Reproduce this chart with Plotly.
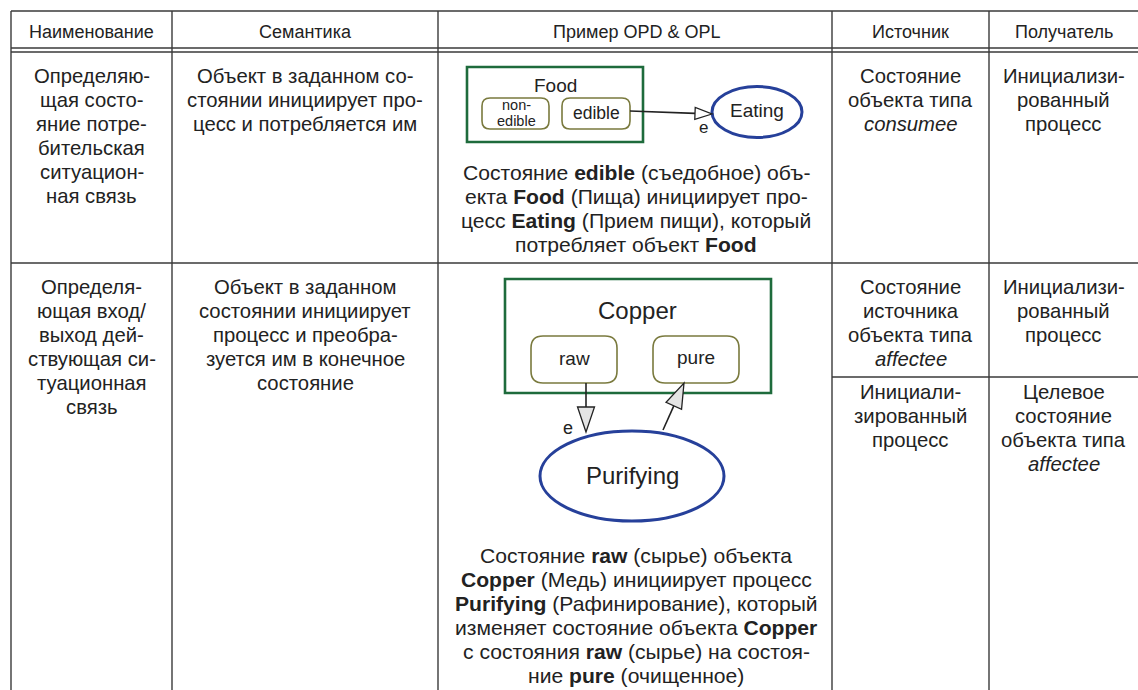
import plotly.graph_objects as go

# ---------------- data (table texts) ----------------
headers = ["Наименование", "Семантика", "Пример OPD &amp; OPL", "Источник", "Получатель"]

row1_name = ["Определяю-", "щая состо-", "яние потре-", "бительская", "ситуацион-", "ная связь"]
row1_sem = ["Объект в заданном со-", "стоянии инициирует про-", "цесс и потребляется им"]
row1_opl = ["Состояние <b>edible</b> (съедобное) объ-",
            "екта <b>Food</b> (Пища) инициирует про-",
            "цесс <b>Eating</b> (Прием пищи), который",
            "потребляет объект <b>Food</b>"]
row1_src = ["Состояние", "объекта типа", "<i>consumee</i>"]
row1_dst = ["Инициализи-", "рованный", "процесс"]

row2_name = ["Определя-", "ющая вход/", "выход дей-", "ствующая си-", "туационная", "связь"]
row2_sem = ["Объект в заданном", "состоянии инициирует", "процесс и преобра-", "зуется им в конечное", "состояние"]
row2_opl = ["Состояние <b>raw</b> (сырье) объекта",
            "<b>Copper</b> (Медь) инициирует процесс",
            "<b>Purifying</b> (Рафинирование), который",
            "изменяет состояние объекта <b>Copper</b>",
            "с состояния <b>raw</b> (сырье) на состоя-",
            "ние <b>pure</b> (очищенное)"]
row2_src_a = ["Состояние", "источника", "объекта типа", "<i>affectee</i>"]
row2_dst_a = ["Инициализи-", "рованный", "процесс"]
row2_src_b = ["Инициали-", "зированный", "процесс"]
row2_dst_b = ["Целевое", "состояние", "объекта типа", "<i>affectee</i>"]

# diagram labels
food_obj, food_proc = "Food", "Eating"
food_state_nonedible = ["non-", "edible"]
food_state_edible = "edible"
copper_obj, copper_states, copper_proc = "Copper", ["raw", "pure"], "Purifying"
link_label = "e"

# ---------------- layout constants ----------------
W, H = 1138, 690
FONT = "Liberation Sans, Arial, sans-serif"
TXT = "#222222"
LINE = "#3a3a3a"
GREEN = "#1e6b3c"
OLIVE = "#7a7a3e"
BLUE = "#26409a"
HEAD_FILL = "#e4e4e4"
HDR_SIZE, BODY_SIZE, OPL_SIZE = 18, 20.3, 21.1

col_x = [11, 172, 438, 832, 989]
col_r = W + 2
top_y, hdr_y1, hdr_y2, row1_bot, split_y = 11, 48, 52, 263, 377
LH = 24

fig = go.Figure()
fig.add_trace(go.Scatter(x=[0, W], y=[0, H], mode="markers", marker=dict(opacity=0), hoverinfo="skip"))

shapes = []
def hline(y, x0, x1, w=1.4):
    shapes.append(dict(type="line", x0=x0, x1=x1, y0=y, y1=y, line=dict(color=LINE, width=w)))
def vline(x, y0, y1, w=1.4):
    shapes.append(dict(type="line", x0=x, x1=x, y0=y0, y1=y1, line=dict(color=LINE, width=w)))

hline(top_y, col_x[0], col_r)
hline(hdr_y1, col_x[0], col_r)
hline(hdr_y2, col_x[0], col_r)
hline(row1_bot, col_x[0], col_r)
hline(split_y, col_x[3], col_r)
for x in col_x:
    vline(x, top_y, H + 2)

anns = []
def text_lines(lines, cx, y0, size=BODY_SIZE, lh=LH):
    for i, t in enumerate(lines):
        anns.append(dict(x=cx, y=y0 + i * lh, text=t, showarrow=False, xanchor="center", yanchor="middle",
                         font=dict(family=FONT, size=size, color=TXT)))

centers = [(col_x[i] + (col_x[i + 1] if i + 1 < len(col_x) else 1138)) / 2 for i in range(len(col_x))]
centers[2] = 636
for h, cx in zip(headers, centers):
    text_lines([h], cx, 31.5, size=HDR_SIZE)

text_lines(row1_name, centers[0], 76)
text_lines(row1_sem, centers[1], 76)
text_lines(row1_src, centers[3], 76)
text_lines(row1_dst, centers[4], 76)
text_lines(row1_opl, 636, 172, size=OPL_SIZE)

text_lines(row2_name, centers[0], 287)
text_lines(row2_sem, centers[1], 287)
text_lines(row2_src_a, centers[3], 287)
text_lines(row2_dst_a, centers[4], 287)
text_lines(row2_src_b, centers[3], 392)
text_lines(row2_dst_b, centers[4], 392)
text_lines(row2_opl, 636, 555, size=OPL_SIZE)

# ---------------- diagram helpers ----------------
def rect(x0, y0, x1, y1, color, w):
    shapes.append(dict(type="rect", x0=x0, x1=x1, y0=y0, y1=y1, line=dict(color=color, width=w), fillcolor="rgba(0,0,0,0)"))

def rrect(x0, y0, x1, y1, r, color=OLIVE, w=1.6):
    p = (f"M {x0+r},{y0} L {x1-r},{y0} Q {x1},{y0} {x1},{y0+r} L {x1},{y1-r} Q {x1},{y1} {x1-r},{y1} "
         f"L {x0+r},{y1} Q {x0},{y1} {x0},{y1-r} L {x0},{y0+r} Q {x0},{y0} {x0+r},{y0} Z")
    shapes.append(dict(type="path", path=p, line=dict(color=color, width=w), fillcolor="white"))

def ellipse(cx, cy, rx, ry, color=BLUE, w=3):
    shapes.append(dict(type="circle", x0=cx - rx, x1=cx + rx, y0=cy - ry, y1=cy + ry,
                       line=dict(color=color, width=w), fillcolor="white"))

def arrow(x0, y0, x1, y1, hl, hw, fill=HEAD_FILL):
    dx, dy = x1 - x0, y1 - y0
    n = (dx * dx + dy * dy) ** 0.5
    ux, uy = dx / n, dy / n
    bx, by = x1 - ux * hl, y1 - uy * hl
    px, py = -uy * hw, ux * hw
    shapes.append(dict(type="line", x0=x0, y0=y0, x1=bx, y1=by, line=dict(color="#222", width=1.6)))
    p = f"M {x1},{y1} L {bx+px},{by+py} L {bx-px},{by-py} Z"
    shapes.append(dict(type="path", path=p, line=dict(color="#222", width=1.3), fillcolor=fill))

def label(x, y, t, size):
    anns.append(dict(x=x, y=y, text=t, showarrow=False, xanchor="center", yanchor="middle",
                     font=dict(family=FONT, size=size, color=TXT)))

# ---------------- diagram 1: Food / Eating ----------------
rect(467, 67, 643, 142, GREEN, 2.6)
label(555, 85, food_obj, 19)
rrect(482, 98, 549, 129, 8)
rrect(562, 98, 630, 129, 8)
text_lines(food_state_nonedible, 516, 105, size=14.5, lh=15.5)
label(596, 113, food_state_edible, 17.5)
ellipse(757, 112, 45, 25.5)
label(757, 110, food_proc, 19)
arrow(630, 111, 712, 114, 17, 6, fill="white")
label(703, 127, link_label, 17)

# ---------------- diagram 2: Copper / Purifying ----------------
rect(505, 279, 771, 393, GREEN, 2.6)
label(637, 310, copper_obj, 24)
rrect(531, 336, 617, 383, 12)
rrect(653, 336, 739, 383, 12)
label(574, 358, copper_states[0], 19)
label(696, 357, copper_states[1], 19)
ellipse(632, 476, 92, 45)
label(632, 475, copper_proc, 24)
arrow(586, 383, 586, 432, 25, 8.5)
arrow(663, 430, 684, 383, 25, 8.5)
label(568, 428, link_label, 18)

fig.update_layout(
    width=W, height=H, margin=dict(l=0, r=0, t=0, b=0),
    paper_bgcolor="white", plot_bgcolor="white", showlegend=False,
    xaxis=dict(range=[0, W], visible=False, fixedrange=True),
    yaxis=dict(range=[H, 0], visible=False, fixedrange=True),
    shapes=shapes, annotations=anns,
)
fig.write_html("out.html", config={"displayModeBar": False},
               post_script="document.body.style.margin='0px';document.body.style.overflow='hidden';")
